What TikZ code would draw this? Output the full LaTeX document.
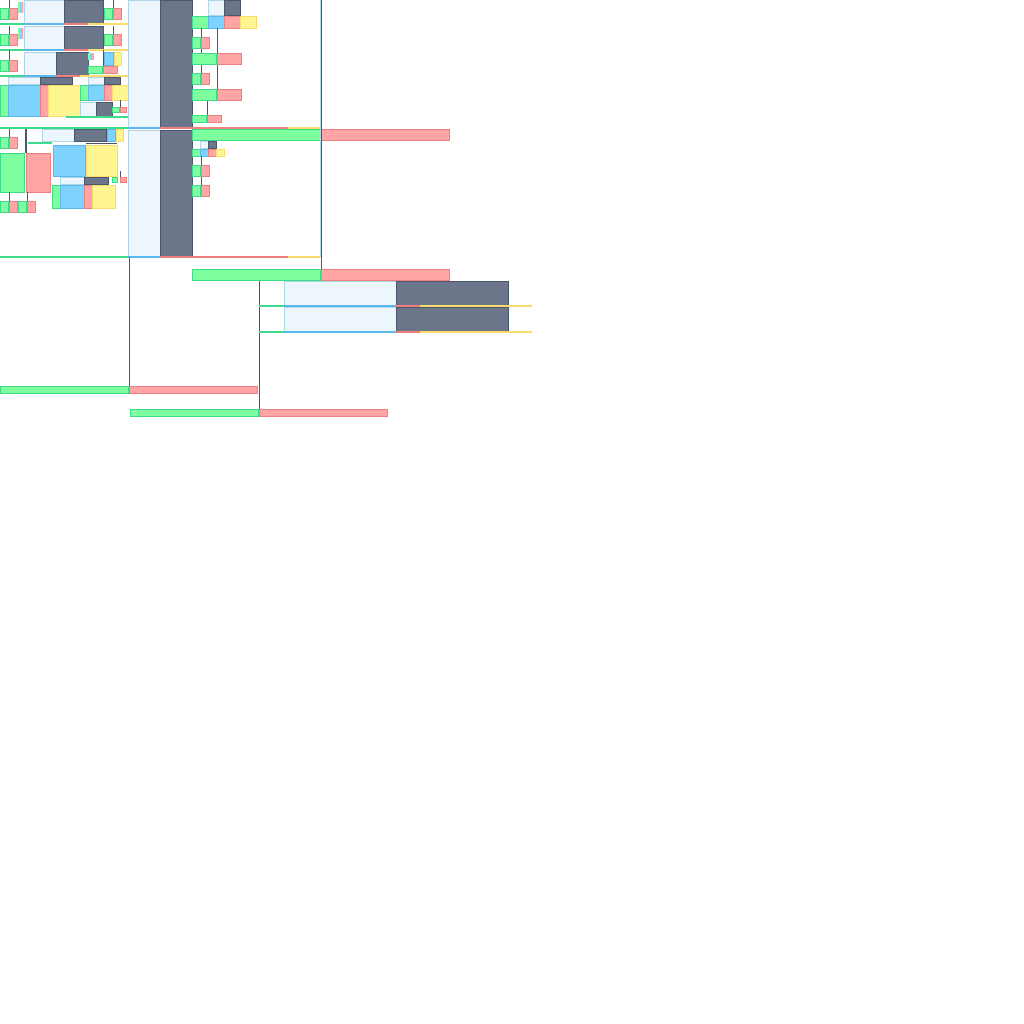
\documentclass[tikz,border=0pt]{standalone}
\usepackage{tikz}
\usepackage{xcolor}
\definecolor{lightfill}{HTML}{EDF6FC}
\definecolor{lightedge}{HTML}{ADD6E6}
\definecolor{darkfill}{HTML}{6B768A}
\definecolor{darkedge}{HTML}{4B586B}
\definecolor{greenfill}{HTML}{7DFFA0}
\definecolor{greenedge}{HTML}{3EDC8A}
\definecolor{redfill}{HTML}{FFA5A5}
\definecolor{rededge}{HTML}{F08080}
\definecolor{bluefill}{HTML}{7DD3FD}
\definecolor{blueedge}{HTML}{5BB8EE}
\definecolor{yellowfill}{HTML}{FFF591}
\definecolor{yellowedge}{HTML}{F9DC6B}

\begin{document}
\begin{tikzpicture}[x=0.25mm,y=-0.25mm,
		lightbox/.style={fill=lightfill,draw=lightedge,line width=0.5pt},
		darkbox/.style={fill=darkfill,draw=darkedge,line width=0.5pt},
		greenbox/.style={fill=greenfill,draw=greenedge,line width=0.5pt},
		redbox/.style={fill=redfill,draw=rededge,line width=0.5pt},
		bluebox/.style={fill=bluefill,draw=blueedge,line width=0.5pt},
		yellowbox/.style={fill=yellowfill,draw=yellowedge,line width=0.5pt},
		darkline/.style={draw=darkedge,line width=0.6pt},
		gline/.style={draw=greenedge,line width=1pt},
		bline/.style={draw=blueedge,line width=1pt},
		rline/.style={draw=rededge,line width=1pt},
		yline/.style={draw=yellowedge,line width=1pt}]
	\useasboundingbox[fill=white] (0,0) rectangle (1024,1024);

	% top left rows
	\foreach \y in {0,26} {
		\draw[darkline] (9,\y) -- (9,\y+8);
		\draw[darkline] (113,\y) -- (113,\y+8);
		\draw[greenbox] (0,\y+8) rectangle (8,\y+19);
		\draw[redbox] (9,\y+8) rectangle (17,\y+19);
		\fill[greenfill] (18,\y+2) rectangle (19.5,\y+13);
		\fill[bluefill] (19.5,\y+2) rectangle (21,\y+13);
		\fill[redfill] (21,\y+2) rectangle (22.5,\y+13);
		\fill[yellowfill] (22.5,\y+2) rectangle (23.5,\y+13);
		\draw[lightbox] (24,\y) rectangle (64,\y+23);
		\draw[darkbox] (64,\y) rectangle (103,\y+23);
		\draw[greenbox] (104,\y+8) rectangle (112,\y+19);
		\draw[redbox] (113,\y+8) rectangle (121,\y+19);
		\draw[gline] (0,\y+24) -- (24,\y+24);
		\draw[bline] (24,\y+24) -- (64,\y+24);
		\draw[rline] (64,\y+24) -- (88,\y+24);
		\draw[yline] (88,\y+24) -- (128,\y+24);
	}
	\draw[darkline] (9,50) -- (9,60);
	\draw[greenbox] (0,60) rectangle (8,71);
	\draw[redbox] (9,60) rectangle (17,71);
	\draw[lightbox] (24,52) rectangle (56,75);
	\draw[darkbox] (56,52) rectangle (88,75);
	\fill[greenfill] (88,53) rectangle (90,60);
	\fill[bluefill] (90,53) rectangle (92,60);
	\fill[redfill] (92,53) rectangle (94,60);
	\draw[darkline] (103,50) -- (103,66);
	\draw[greenbox] (88,66) rectangle (102,73);
	\draw[redbox] (103,66) rectangle (117,73);
	\draw[bluebox] (104,52) rectangle (113,65);
	\draw[yellowbox] (114,52) rectangle (121,65);
	\draw[gline] (0,76) -- (24,76);
	\draw[bline] (24,76) -- (56,76);
	\draw[rline] (56,76) -- (80,76);
	\draw[yline] (80,76) -- (128,76);

	\draw[lightbox] (8,77) rectangle (40,84);
	\draw[darkbox] (40,77) rectangle (72,84);
	\draw[greenbox] (0,85) rectangle (8,116);
	\draw[bluebox] (8,85) rectangle (40,116);
	\draw[redbox] (40,85) rectangle (48,116);
	\draw[yellowbox] (48,85) rectangle (80,116);
	\draw[lightbox] (88,77) rectangle (104,84);
	\draw[darkbox] (104,77) rectangle (120,84);
	\draw[greenbox] (80,85) rectangle (88,100);
	\draw[bluebox] (88,85) rectangle (104,100);
	\draw[redbox] (104,85) rectangle (112,100);
	\draw[yellowbox] (112,85) rectangle (128,100);
	\draw[lightbox] (80,102) rectangle (96,116);
	\draw[darkbox] (96,102) rectangle (112,116);
	\draw[darkline] (120,100) -- (120,107);
	\draw[greenbox] (112,107) rectangle (119,112);
	\draw[redbox] (120,107) rectangle (126,112);
	\draw[gline] (66,117) -- (128,117);
	\draw[gline] (0,128) -- (128,128);

	% bottom left block
	\draw[darkline] (9,129) -- (9,137);
	\draw[darkedge,line width=1.2pt] (26,129) -- (26,153);
	\draw[greenbox] (0,137) rectangle (8,148);
	\draw[redbox] (9,137) rectangle (17,148);
	\draw[greenbox] (0,153) rectangle (24,192);
	\draw[redbox] (26,153) rectangle (50,192);
	\draw[darkline] (9,192) -- (9,201);
	\draw[darkline] (27,192) -- (27,201);
	\draw[greenbox] (0,201) rectangle (8,212);
	\draw[redbox] (9,201) rectangle (17,212);
	\draw[greenbox] (18,201) rectangle (26,212);
	\draw[redbox] (27,201) rectangle (35,212);
	\draw[lightbox] (42,129) rectangle (74,141);
	\draw[darkbox] (74,129) rectangle (106,141);
	\draw[bluebox] (107,129) rectangle (115,141);
	\draw[yellowbox] (116,129) rectangle (123,141);
	\draw[gline] (28,143) -- (52,143);
	\draw[darkline] (86,143) -- (117,143);
	\draw[bluebox] (53,145) rectangle (85,176);
	\draw[yellowbox] (86,145) rectangle (117,176);
	\draw[lightbox] (60,177) rectangle (84,184);
	\draw[darkbox] (84,177) rectangle (108,184);
	\draw[greenbox] (52,185) rectangle (60,208);
	\draw[bluebox] (60,185) rectangle (84,208);
	\draw[redbox] (84,185) rectangle (92,208);
	\draw[yellowbox] (92,185) rectangle (115,208);
	\draw[darkline] (120,171) -- (120,177);
	\draw[greenbox] (112,177) rectangle (117,182);
	\draw[redbox] (120,177) rectangle (126,182);

	% middle column
	\draw[lightbox] (128,0) rectangle (160,127);
	\draw[darkbox] (160,0) rectangle (192,127);
	\draw[lightbox] (128,130) rectangle (160,256);
	\draw[darkbox] (160,130) rectangle (192,256);
	\draw[bline] (128,128) -- (160,128);
	\draw[rline] (160,128) -- (288,128);
	\draw[yline] (288,128) -- (320,128);
	\draw[gline] (0,257) -- (128,257);
	\draw[bline] (128,257) -- (160,257);
	\draw[rline] (160,257) -- (288,257);
	\draw[yline] (288,257) -- (320,257);

	% upper right of middle
	\draw[lightbox] (208,0) rectangle (224,15);
	\draw[darkbox] (224,0) rectangle (240,15);
	\draw[greenbox] (192,16) rectangle (208,28);
	\draw[bluebox] (208,16) rectangle (224,28);
	\draw[redbox] (224,16) rectangle (240,28);
	\draw[yellowbox] (240,16) rectangle (256,28);
	\draw[darkline] (201,28) -- (201,37);
	\draw[darkline] (201,48) -- (201,73);
	\draw[darkline] (217,28) -- (217,89);
	\draw[darkline] (207,100) -- (207,115);
	\draw[greenbox] (192,37) rectangle (200,48);
	\draw[redbox] (201,37) rectangle (209,48);
	\draw[greenbox] (192,53) rectangle (216,64);
	\draw[redbox] (217,53) rectangle (241,64);
	\draw[greenbox] (192,73) rectangle (200,84);
	\draw[redbox] (201,73) rectangle (209,84);
	\draw[greenbox] (192,89) rectangle (216,100);
	\draw[redbox] (217,89) rectangle (241,100);
	\draw[greenbox] (192,115) rectangle (206,122);
	\draw[redbox] (207,115) rectangle (221,122);

	% lower right of middle
	\draw[greenbox] (192,129) rectangle (320,140);
	\draw[redbox] (321,129) rectangle (449,140);
	\draw[lightbox] (200,141) rectangle (208,148);
	\draw[darkbox] (208,141) rectangle (216,148);
	\draw[greenbox] (192,149) rectangle (200,156);
	\draw[bluebox] (200,149) rectangle (208,156);
	\draw[redbox] (208,149) rectangle (216,156);
	\draw[yellowbox] (216,149) rectangle (224,156);
	\draw[darkline] (201,156) -- (201,185);
	\draw[greenbox] (192,165) rectangle (200,176);
	\draw[redbox] (201,165) rectangle (209,176);
	\draw[greenbox] (192,185) rectangle (200,196);
	\draw[redbox] (201,185) rectangle (209,196);

	% long connectors
	\draw[lightedge,line width=0.6pt] (320,0) -- (320,257);
	\draw[darkline] (321,0) -- (321,269);
	\draw[darkline] (129,257) -- (129,386);
	\draw[darkline] (259,280) -- (259,409);

	% bottom part
	\draw[greenbox] (192,269) rectangle (320,280);
	\draw[redbox] (321,269) rectangle (449,280);
	\foreach \y in {281,307} {
		\draw[lightbox] (284,\y) rectangle (396,\y+24);
		\draw[darkbox] (396,\y) rectangle (508,\y+24);
		\draw[gline] (259,\y+25) -- (284,\y+25);
		\draw[bline] (284,\y+25) -- (396,\y+25);
		\draw[rline] (396,\y+25) -- (420,\y+25);
		\draw[yline] (420,\y+25) -- (532,\y+25);
	}
	\draw[greenbox] (0,386) rectangle (128,393);
	\draw[redbox] (129,386) rectangle (257,393);
	\draw[greenbox] (130,409) rectangle (258,416);
	\draw[redbox] (259,409) rectangle (387,416);
\end{tikzpicture}
\end{document}
